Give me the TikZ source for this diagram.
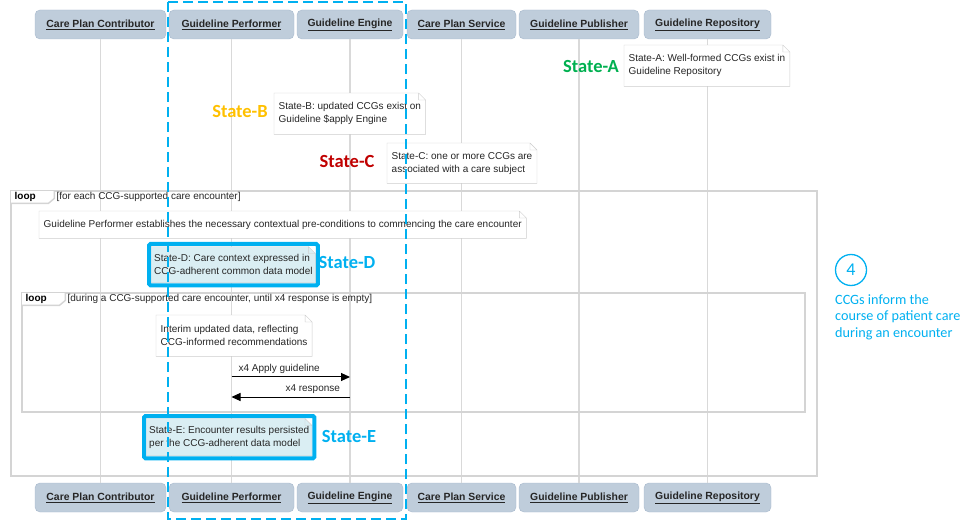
\documentclass[tikz,border=0pt]{standalone}
\usepackage{fontspec}
\setmainfont{Liberation Sans}
\newfontfamily\calibri{Carlito}
\usepackage{tikz}
\usetikzlibrary{arrows.meta}
\definecolor{actfill}{RGB}{191,205,219}
\definecolor{actline}{RGB}{166,184,204}
\definecolor{lifegray}{RGB}{217,217,217}
\definecolor{framegray}{RGB}{212,212,212}
\definecolor{notegray}{RGB}{205,205,205}
\definecolor{hiblue}{RGB}{0,176,240}
\definecolor{hifill}{RGB}{218,238,243}
\definecolor{stgreen}{RGB}{0,176,80}
\definecolor{styellow}{RGB}{255,192,0}
\definecolor{stred}{RGB}{192,0,0}
\tikzset{actor/.style={draw=actline, fill=actfill, rounded corners=5pt, minimum height=29pt, inner sep=0pt,
    font=\fontsize{10.4}{12}\selectfont\bfseries, text=black!85},
  life/.style={draw=lifegray, line width=1.2pt},
  frame/.style={draw=framegray, line width=1.4pt},
  note/.style={anchor=north west, fill=white, inner xsep=4.5pt, inner ysep=0pt, align=left,
    font=\fontsize{10}{13}\selectfont, text=black!85},
  bluenote/.style={note, fill=hifill, inner xsep=2.5pt},
  hilite/.style={draw=hiblue, line width=4pt, rounded corners=1.5pt},
  statelbl/.style={font=\calibri\fontsize{18.5}{20}\selectfont\bfseries},
  msg/.style={line width=1pt, -{Triangle[length=9pt,width=8pt]}},
  msgtext/.style={font=\fontsize{10}{12}\selectfont, text=black!85, inner sep=1.5pt},
  looptab/.style={anchor=north west, fill=white, inner sep=0pt, minimum height=12pt, text width=36pt,
    minimum width=43pt, font=\fontsize{10}{12}\selectfont\bfseries},
  guard/.style={anchor=west, inner sep=0pt, font=\fontsize{10}{12}\selectfont, text=black!85}}
\newcommand\dogear[2][notegray]{%
  \fill[white] ([xshift=-7pt]#2.north east) -- (#2.north east) -- ([yshift=-7pt]#2.north east) -- cycle;
  \draw[#1] (#2.north west) -- ([xshift=-7pt]#2.north east) -- ([yshift=-7pt]#2.north east)
    -- (#2.south east) -- (#2.south west) -- cycle ([xshift=-7pt]#2.north east) |- ([yshift=-7pt]#2.north east);}
\newcommand\tabedge[1]{%
  \draw[frame] (#1.north east) -- ([yshift=5pt]#1.south east) -- ([xshift=-6pt]#1.south east) -- (#1.south west);}

\begin{document}
\begin{tikzpicture}[x=1pt,y=-1pt]
\useasboundingbox (0,0) rectangle (975,521);

\node[actor, minimum width=131pt] (tCPC) at (100.5,24.5) {\underline{Care Plan Contributor}};
\node[actor, minimum width=125pt] (tGP) at (231.5,24.5) {\underline{Guideline Performer}};
\node[actor, minimum width=106pt] (tGE) at (350,24.5) {\underline{Guideline Engine}};
\node[actor, minimum width=109pt] (tCPS) at (461.5,24.5) {\underline{Care Plan Service}};
\node[actor, minimum width=120pt] (tGPub) at (579,24.5) {\underline{Guideline Publisher}};
\node[actor, minimum width=127pt] (tGRep) at (707.5,24.5) {\underline{Guideline Repository}};
\node[actor, minimum width=131pt] (bCPC) at (100.5,497.5) {\underline{Care Plan Contributor}};
\node[actor, minimum width=125pt] (bGP) at (231.5,497.5) {\underline{Guideline Performer}};
\node[actor, minimum width=106pt] (bGE) at (350,497.5) {\underline{Guideline Engine}};
\node[actor, minimum width=109pt] (bCPS) at (461.5,497.5) {\underline{Care Plan Service}};
\node[actor, minimum width=120pt] (bGPub) at (579,497.5) {\underline{Guideline Publisher}};
\node[actor, minimum width=127pt] (bGRep) at (707.5,497.5) {\underline{Guideline Repository}};

\draw[life] (tCPC) -- (bCPC);
\draw[life] (tGP) -- (bGP);
\draw[life] (tGE) -- (bGE);
\draw[life] (tCPS) -- (bCPS);
\draw[life] (tGPub) -- (bGPub);
\draw[life] (tGRep) -- (bGRep);

\node[note, minimum height=41pt] (nA) at (624,45) {State-A: Well-formed CCGs exist in\\Guideline Repository};
\dogear{nA}
\node[statelbl, text=stgreen] (sA) at (591,67) {State-A};
\node[note, minimum height=41pt] (nB) at (274,93) {State-B: updated CCGs exist on\\Guideline \$apply Engine};
\dogear{nB}
\node[statelbl, text=styellow] (sB) at (240,112) {State-B};
\node[note, minimum height=40pt] (nC) at (387,143) {State-C: one or more CCGs are\\associated with a care subject};
\dogear{nC}
\node[statelbl, text=stred] (sC) at (347,162) {State-C};

\draw[frame] (11,191) rectangle (817,476);
\node[looptab] (L1tab) at (11,191) {loop};
\tabedge{L1tab}
\node[guard] (L1guard) at ([xshift=2pt]L1tab.east) {[for each CCG-supported care encounter]};
\node[note, minimum height=27pt] (nGP) at (39,211) {Guideline Performer establishes the necessary contextual pre-conditions to commencing the care encounter};
\dogear{nGP}
\node[bluenote, minimum height=36pt] (nD) at (151.5,246.5) {State-D: Care context expressed in\\CCG-adherent common data model};
\dogear{nD}
\draw[hilite] ([xshift=-2.5pt,yshift=2.5pt]nD.north west) rectangle ([xshift=2.5pt,yshift=-2.5pt]nD.south east);
\node[statelbl, text=hiblue] (sD) at (347,263) {State-D};

\draw[frame] (22,293) rectangle (805,412);
\node[looptab] (L2tab) at (22,293) {loop};
\tabedge{L2tab}
\node[guard] (L2guard) at ([xshift=2pt]L2tab.east) {[during a CCG-supported care encounter, until x4 response is empty]};
\node[note, minimum height=41pt] (nI) at (156,315) {Interim updated data, reflecting\\CCG-informed recommendations};
\dogear{nI}
\coordinate (m1a) at (tGP |- 0,377);
\coordinate (m1b) at (tGE |- 0,377);
\coordinate (m2a) at (tGE |- 0,397);
\coordinate (m2b) at (tGP |- 0,397);
\draw[msg] (m1a) -- (m1b) node[msgtext, pos=0, above right, xshift=5pt, yshift=1pt] (m1lbl) {x4 Apply guideline};
\draw[msg] (m2a) -- (m2b) node[msgtext, pos=0, above left, xshift=-8pt, yshift=1pt] (m2lbl) {x4 response};

\node[bluenote, minimum height=37pt] (nE) at (146.5,418.5) {State-E: Encounter results persisted\\per the CCG-adherent data model};
\dogear{nE}
\draw[hilite] ([xshift=-2.5pt,yshift=2.5pt]nE.north west) rectangle ([xshift=2.5pt,yshift=-2.5pt]nE.south east);
\node[statelbl, text=hiblue] (sE) at (349,437) {State-E};

\draw[hiblue, line width=2pt, dash pattern=on 10pt off 5pt] (168,2) rectangle (406,519);

\node[circle, draw=hiblue, line width=1.3pt, minimum size=31pt, inner sep=0pt, text=hiblue,
  font=\calibri\fontsize{18}{20}\selectfont] (num) at (851,270) {4};
\node[anchor=north west, align=left, inner sep=0pt, text=hiblue, font=\calibri\fontsize{14.2}{16.7}\selectfont]
  (cap) at (835,294) {CCGs inform the\\course of patient care\\during an encounter};
\end{tikzpicture}
\end{document}
